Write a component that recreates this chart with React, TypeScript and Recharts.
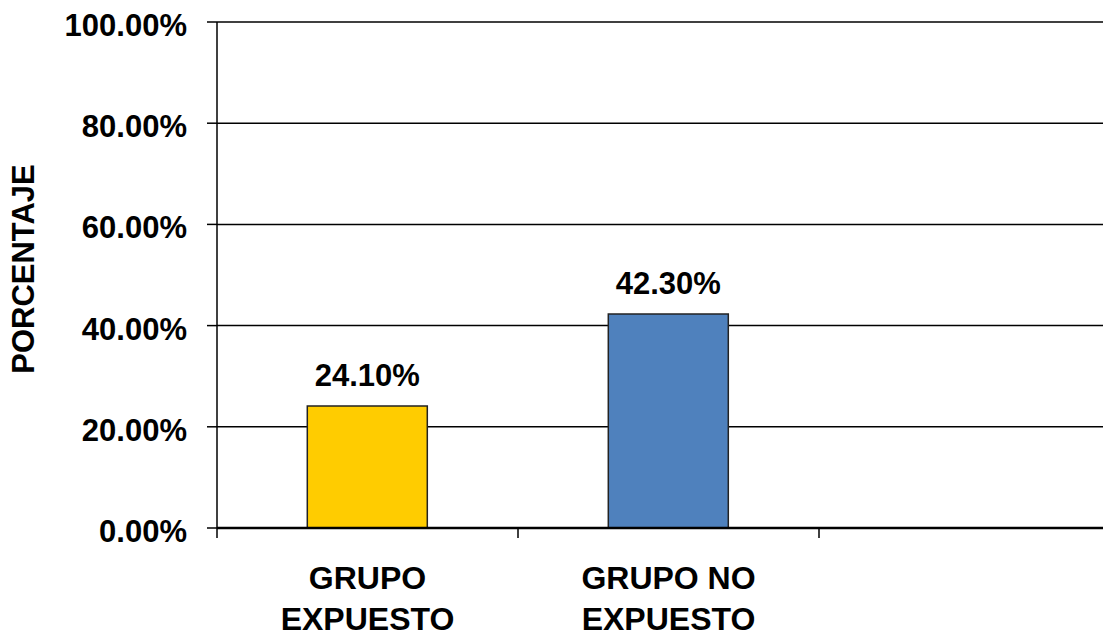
import { BarChart, Bar, XAxis, YAxis, CartesianGrid, Cell, LabelList } from "recharts";

const CATEGORIES = ["GRUPO|EXPUESTO", "GRUPO NO|EXPUESTO", ""];
const VALUES = [24.1, 42.3, null];
const BAR_COLORS = ["#FFCC00", "#4F81BD", "#FFFFFF"];
const Y_TICKS = [0, 20, 40, 60, 80, 100];

const FONT = "'Liberation Sans', Arial, sans-serif";
const CHART_W = 1112;
const CHART_H = 628;
const MARGIN = { top: 14, right: 0, bottom: 0, left: 0 };
const Y_AXIS_W = 209;
const PLOT_W = CHART_W - Y_AXIS_W - MARGIN.left - MARGIN.right;
const BAND = PLOT_W / CATEGORIES.length;

const data = CATEGORIES.map((name, i) => ({ name, value: VALUES[i] }));

function CategoryTick(props: any) {
  const { x, y, payload } = props;
  const lines = String(payload.value).split("|").filter(Boolean);
  return (
    <g>
      <line x1={x - BAND / 2} x2={x - BAND / 2} y1={y} y2={y + 10} stroke="#000" strokeWidth={1.5} />
      {lines.map((l, i) => (
        <text
          key={i}
          x={x}
          y={y + 61 + i * 41}
          textAnchor="middle"
          fontFamily={FONT}
          fontWeight="bold"
          fontSize={32}
          fill="#000"
        >
          {l}
        </text>
      ))}
    </g>
  );
}

function ValueLabel(props: any) {
  const { x, y, width, value } = props;
  if (value == null) return null;
  return (
    <text
      x={x + width / 2}
      y={y - 20}
      textAnchor="middle"
      fontFamily={FONT}
      fontWeight="bold"
      fontSize={31}
      fill="#000"
    >
      {Number(value).toFixed(2)}%
    </text>
  );
}

export default function App() {
  return (
    <div style={{ width: 1103, height: CHART_H, overflow: "hidden" }}>
      <BarChart width={CHART_W} height={CHART_H} data={data} margin={MARGIN} barCategoryGap="30%">
        <CartesianGrid horizontal vertical={false} stroke="#000" strokeWidth={1.5} />
        <XAxis
          dataKey="name"
          height={CHART_H - MARGIN.top - 506}
          tickLine={false}
          tickSize={0}
          tickMargin={0}
          axisLine={{ stroke: "#000", strokeWidth: 2.5 }}
          tick={<CategoryTick />}
          interval={0}
        />
        <YAxis
          width={Y_AXIS_W}
          domain={[0, 100]}
          ticks={Y_TICKS}
          interval={0}
          tickSize={10}
          tickMargin={20}
          tickLine={{ stroke: "#000", strokeWidth: 1.5 }}
          axisLine={{ stroke: "#000", strokeWidth: 1.5 }}
          tickFormatter={(v: number) => `${v.toFixed(2)}%`}
          tick={{ fontFamily: FONT, fontWeight: "bold", fontSize: 31, fill: "#000", dy: 3 }}
          label={{
            content: () => (
              <text
                x={15}
                y={261}
                transform="rotate(-90, 15, 261)"
                textAnchor="middle"
                dominantBaseline="central"
                fontFamily={FONT}
                fontWeight="bold"
                fontSize={31}
                fill="#000"
              >
                PORCENTAJE
              </text>
            ),
          }}
        />
        <Bar dataKey="value" stroke="#222" strokeWidth={1.5} isAnimationActive={false}>
          {data.map((_, i) => (
            <Cell key={i} fill={BAR_COLORS[i]} />
          ))}
          <LabelList dataKey="value" content={<ValueLabel />} />
        </Bar>
      </BarChart>
    </div>
  );
}
